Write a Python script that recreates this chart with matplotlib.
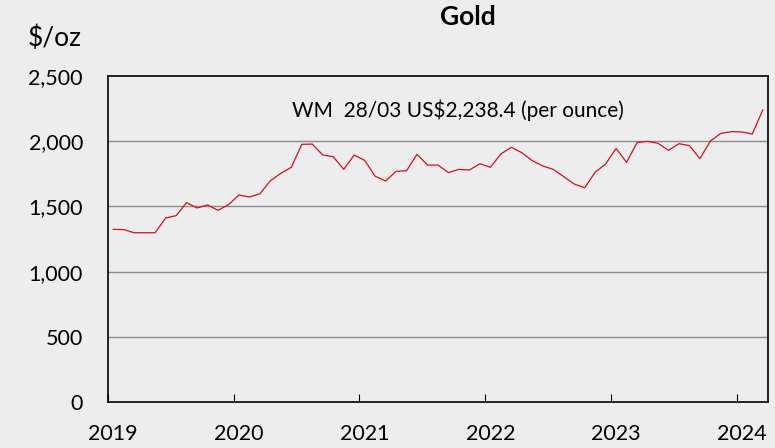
import numpy as np
import matplotlib.pyplot as plt
from matplotlib.ticker import FuncFormatter

# monthly gold price, Jan 2019 .. Mar 2024
start_year = 2019
gold = [1324, 1322, 1298, 1298, 1298, 1411, 1429, 1529, 1488, 1511, 1470, 1513,
        1587, 1572, 1597, 1697, 1754, 1800, 1976, 1978, 1894, 1881, 1784, 1894,
        1853, 1731, 1695, 1769, 1774, 1900, 1817, 1817, 1759, 1784, 1779, 1827,
        1800, 1902, 1953, 1912, 1851, 1810, 1784, 1728, 1672, 1643, 1762, 1825,
        1945, 1838, 1989, 1999, 1984, 1930, 1981, 1966, 1866, 2001, 2060, 2073,
        2071, 2055, 2239]
years = [2019, 2020, 2021, 2022, 2023, 2024]
y_ticks = [0, 500, 1000, 1500, 2000, 2500]
note = "WM  28/03 US$2,238.4 (per ounce)"

# months plotted at mid-month
t = start_year + (np.arange(len(gold)) + 0.5) / 12

plt.rcParams['font.family'] = ['Lato', 'DejaVu Sans']
bg = '#eeeded'

fig = plt.figure(figsize=(7.75, 4.48), dpi=100, facecolor=bg)
ax = fig.add_axes([108 / 775, 1 - 402 / 448, 660 / 775, 326 / 448])
ax.set_facecolor(bg)

ax.plot(t, gold, color='#d0101c', linewidth=0.9)

ax.set_xlim(2019, 2024.25)
ax.set_ylim(0, 2500)
ax.set_yticks(y_ticks)
ax.yaxis.set_major_formatter(FuncFormatter(lambda v, p: f"{int(v):,}"))

# tick marks on the year boundaries, labels sit half a month to the right
ax.set_xticks(years)
ax.set_xticklabels([])
ax.set_xticks([y + 0.5 / 12 for y in years], minor=True)
ax.set_xticklabels([str(y) for y in years], minor=True)
ax.tick_params(axis='x', which='major', direction='in', length=6, width=0.8)
ax.tick_params(axis='x', which='minor', length=0, labelsize=15.5, pad=16)
ax.tick_params(axis='y', length=0, labelsize=15.5, pad=18)

for v in y_ticks[1:-1]:
    ax.axhline(v, color='#8c8c8c', linewidth=1.0, zorder=0)

for s in ax.spines.values():
    s.set_color('black')
    s.set_linewidth(1.2)

fig.text(468 / 775, 1 - 17 / 448, "Gold", ha='center', va='center',
         fontsize=19, fontweight='bold')
fig.text(55 / 775, 1 - 38 / 448, "$/oz", ha='center', va='center',
         fontsize=19, parse_math=False)
ax.text(2021.78, 2239, note, ha='center', va='center', fontsize=15,
        parse_math=False)

fig.savefig('out.png', dpi=100, facecolor=bg)
